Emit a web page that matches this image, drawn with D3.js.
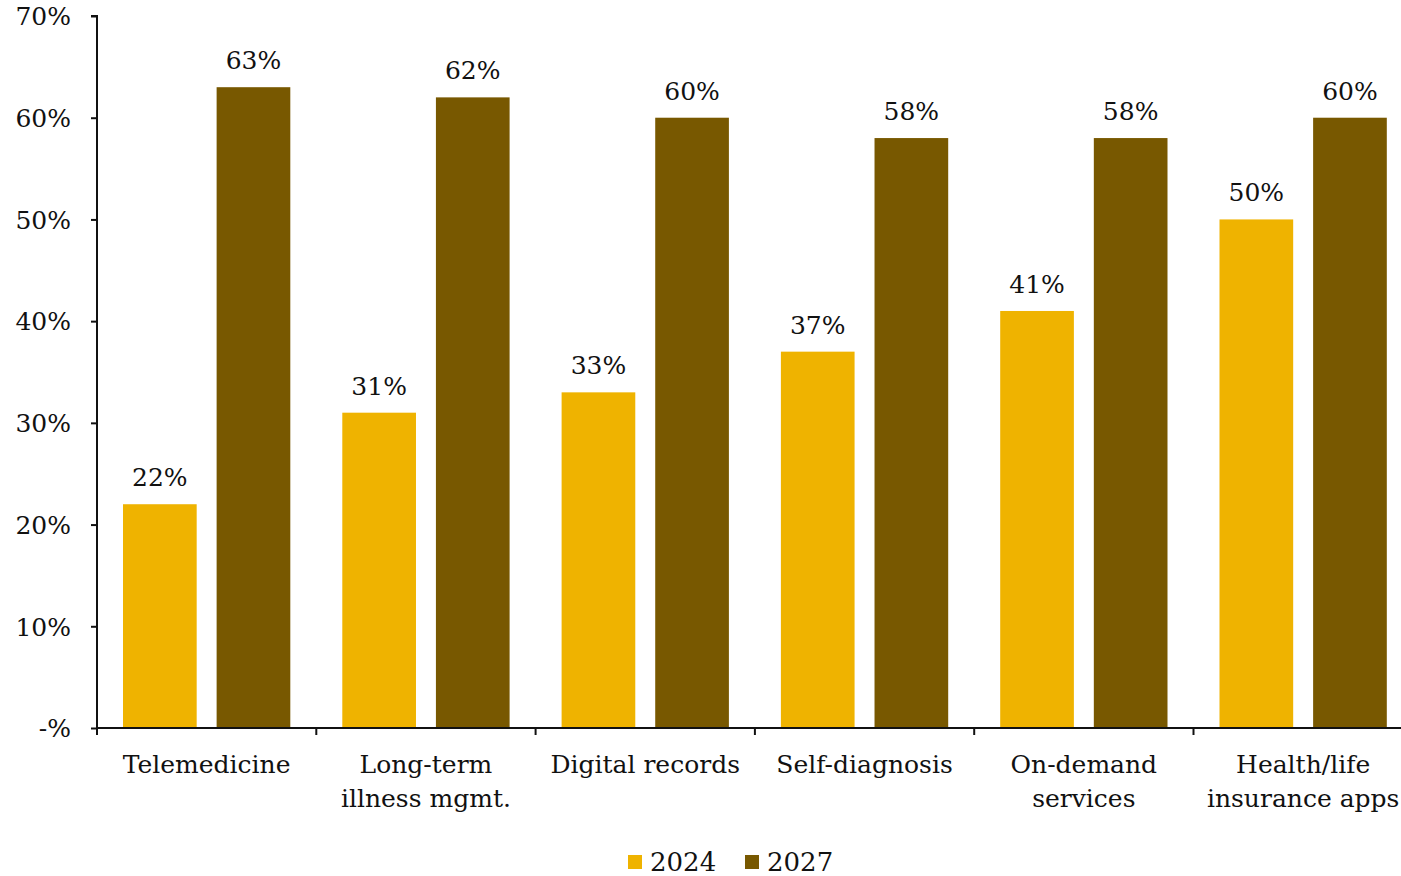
<!DOCTYPE html>
<html>
<head>
<meta charset="utf-8">
<script src="https://cdn.jsdelivr.net/npm/d3@7"></script>
<style>
  html, body { margin: 0; padding: 0; background: #fff; }
  svg { display: block; }
  text { font-family: "DejaVu Serif", Georgia, serif; fill: #111; }
</style>
</head>
<body>
<svg id="chart" width="1401" height="876"></svg>
<script>
// Adoption of digital health services, share of respondents
const categories = [
  ["Telemedicine"],
  ["Long-term", "illness mgmt."],
  ["Digital records"],
  ["Self-diagnosis"],
  ["On-demand", "services"],
  ["Health/life", "insurance apps"]
];
const seriesNames = ["2024", "2027"];
const values2024 = [22, 31, 33, 37, 41, 50];
const values2027 = [63, 62, 60, 58, 58, 60];
const yTicks = [0, 10, 20, 30, 40, 50, 60, 70];
const colors = ["#EFB300", "#785800"];

const svg = d3.select("#chart");
const plotLeft = 97, plotTop = 16, plotBottom = 728;
const step = 219.3;
const plotRight = plotLeft + step * categories.length;

const x = d3.scaleBand()
  .domain(d3.range(categories.length))
  .range([plotLeft, plotRight])
  .padding(0);

const xInner = d3.scaleBand()
  .domain(seriesNames)
  .range([26, x.bandwidth() - 26])
  .paddingInner(0.213)
  .paddingOuter(0);

const y = d3.scaleLinear().domain([0, 70]).range([plotBottom, plotTop]);

const series = [values2024, values2027];

// bars and value labels
series.forEach((vals, si) => {
  const g = svg.append("g");
  g.selectAll("rect")
    .data(vals)
    .join("rect")
    .attr("x", (d, i) => x(i) + xInner(seriesNames[si]))
    .attr("y", d => y(d))
    .attr("width", xInner.bandwidth())
    .attr("height", d => y(0) - y(d))
    .attr("fill", colors[si]);
  g.selectAll("text")
    .data(vals)
    .join("text")
    .attr("x", (d, i) => x(i) + xInner(seriesNames[si]) + xInner.bandwidth() / 2)
    .attr("y", d => y(d) - 18)
    .attr("text-anchor", "middle")
    .attr("font-size", 25)
    .text(d => d + "%");
});

// y axis
const yAxis = d3.axisLeft(y)
  .tickValues(yTicks)
  .tickSize(6)
  .tickPadding(20)
  .tickFormat(d => d === 0 ? "-%" : d + "%");
const gy = svg.append("g").attr("transform", `translate(${plotLeft},0)`).call(yAxis);
gy.select(".domain").attr("stroke", "#111").attr("stroke-width", 2).attr("d", `M-6,${plotTop}H0V${plotBottom}`);
gy.selectAll(".tick line").attr("stroke", "#111").attr("stroke-width", 2);
gy.selectAll(".tick text").attr("font-size", 25).attr("font-family", "DejaVu Serif").attr("fill", "#111").attr("dy", "0.35em");

// x axis
const xAxis = d3.axisBottom(x).tickSize(0).tickFormat("");
const gx = svg.append("g").attr("transform", `translate(0,${plotBottom})`).call(xAxis);
gx.select(".domain").attr("stroke", "#111").attr("stroke-width", 2).attr("d", `M${plotLeft},0H${plotRight}`);
gx.selectAll(".tick").remove();
gx.selectAll("line.sep")
  .data(d3.range(categories.length + 1))
  .join("line")
  .attr("class", "sep")
  .attr("x1", i => plotLeft + i * x.step())
  .attr("x2", i => plotLeft + i * x.step())
  .attr("y1", 0).attr("y2", 7)
  .attr("stroke", "#111").attr("stroke-width", 2);

// category labels
const labels = svg.append("g");
categories.forEach((lines, i) => {
  const t = labels.append("text")
    .attr("x", x(i) + x.bandwidth() / 2)
    .attr("y", 773)
    .attr("text-anchor", "middle")
    .attr("font-size", 25);
  lines.forEach((ln, j) => {
    t.append("tspan")
      .attr("x", x(i) + x.bandwidth() / 2)
      .attr("dy", j === 0 ? 0 : 34)
      .text(ln);
  });
});

// legend
const legend = svg.append("g");
const legendX = [628, 745];
seriesNames.forEach((name, i) => {
  legend.append("rect")
    .attr("x", legendX[i]).attr("y", 855)
    .attr("width", 14).attr("height", 14)
    .attr("fill", colors[i]);
  legend.append("text")
    .attr("x", legendX[i] + 22).attr("y", 871)
    .attr("font-size", 26)
    .text(name);
});
</script>
</body>
</html>
